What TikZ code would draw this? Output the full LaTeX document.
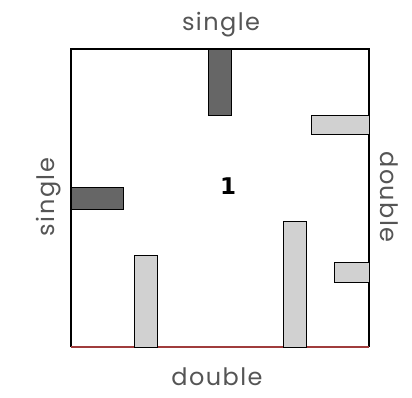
\documentclass[tikz,border=0pt]{standalone}
\usepackage{fontspec}
\setmainfont{DejaVu Sans}
\newfontfamily\sidefont[LetterSpace=6]{Poppins}
\usepackage{tikz}
\definecolor{wallred}{HTML}{A03C3C}
\definecolor{labelgray}{HTML}{555555}

\begin{document}
\begin{tikzpicture}[x=1pt, y=-1pt, thick,
    dark/.style = {draw, thin, fill=black!60},
    light/.style = {draw, thin, fill=black!18},
    side/.style = {text=labelgray, font=\sidefont\fontsize{24}{28}\selectfont}]
  \useasboundingbox (0,0) rectangle (412,397);

    % walls
    \draw[line width=2pt] (71,347) -- (71,49) -- (369,49) -- (369,347);
    \draw[wallred, line width=1.2pt] (71,347) -- (369,347);

    % pieces
    \draw[dark] (208,49) rectangle (231,115);
    \draw[dark] (71,187) rectangle (123,209);
    \draw[light] (311,115) rectangle (369,134);
    \draw[light] (134,255) rectangle (157,347);
    \draw[light] (283,221) rectangle (306,347);
    \draw[light] (334,262) rectangle (369,282);

    \node[font=\fontsize{23}{27}\selectfont\bfseries] (N) at (228,186) {1};

    \node[side] (T) at (221,25) {single};
    \node[side] (B) at (217,377) {double};
    \node[side, rotate=90] (L) at (49,197) {single};
    \node[side, rotate=-90] (R) at (389,197) {double};
  \end{tikzpicture}
\end{document}
